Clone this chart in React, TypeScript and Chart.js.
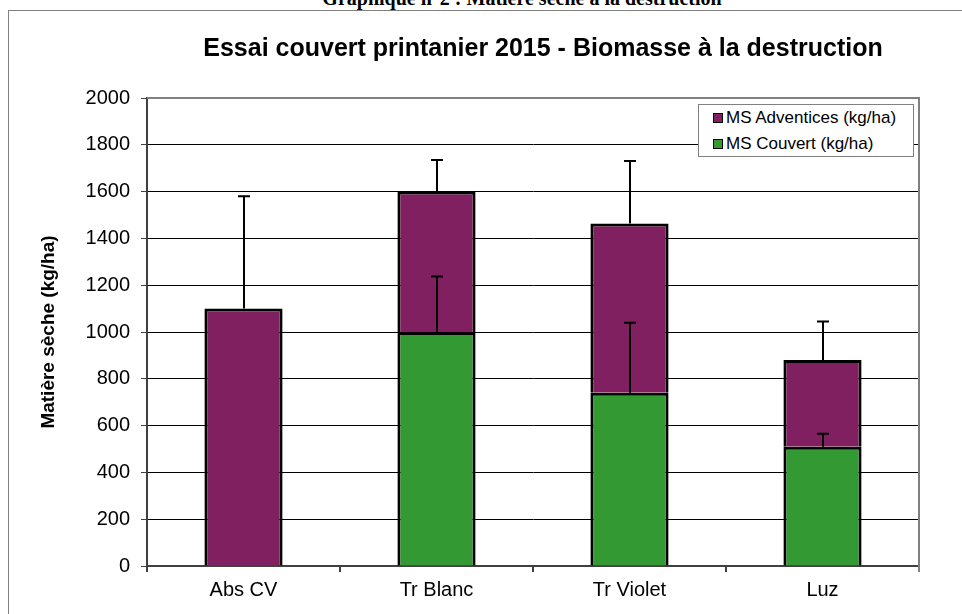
import React, { useEffect, useRef } from "react";
import { Chart, registerables } from "chart.js";

Chart.register(...registerables);

const categories = ["Abs CV", "Tr Blanc", "Tr Violet", "Luz"];
const couvert = [0, 1000, 740, 510];
const adventices = [1100, 600, 724, 370];
const couvertErr = [0, 237, 300, 55];
const totalErr = [480, 135, 267, 165];
const yMin = 0;
const yMax = 2000;
const yStep = 200;

const PURPLE = "#802060";
const GREEN = "#339933";
const FONT = '"Liberation Sans", Arial, sans-serif';

const errorBarsPlugin = {
  id: "errorBars",
  afterDatasetsDraw(chart: any) {
    const ctx = chart.ctx;
    const y = chart.scales.y;
    const meta = chart.getDatasetMeta(1);
    ctx.save();
    ctx.strokeStyle = "#000";
    ctx.lineWidth = 2;
    const draw = (x: number, base: number, top: number) => {
      const yb = y.getPixelForValue(base);
      const yt = y.getPixelForValue(top);
      ctx.beginPath();
      ctx.moveTo(x, yb);
      ctx.lineTo(x, yt);
      ctx.moveTo(x - 6, yt);
      ctx.lineTo(x + 6, yt);
      ctx.stroke();
    };
    categories.forEach((_, i) => {
      const x = Math.round(meta.data[i].x);
      if (couvert[i] > 0 && couvertErr[i] > 0) draw(x, couvert[i], couvert[i] + couvertErr[i]);
      const tot = couvert[i] + adventices[i];
      if (totalErr[i] > 0) draw(x, tot, tot + totalErr[i]);
    });
    ctx.restore();
  },
};

const plotBorderPlugin = {
  id: "plotBorder",
  afterDatasetsDraw(chart: any) {
    const { ctx, chartArea } = chart;
    ctx.save();
    ctx.strokeStyle = "#808080";
    ctx.lineWidth = 2;
    ctx.beginPath();
    ctx.moveTo(chartArea.left, chartArea.top);
    ctx.lineTo(chartArea.right, chartArea.top);
    ctx.lineTo(chartArea.right, chartArea.bottom + 6);
    ctx.stroke();
    ctx.restore();
  },
};

function ChartCanvas() {
  const ref = useRef<HTMLCanvasElement | null>(null);
  useEffect(() => {
    if (!ref.current) return;
    const chart = new Chart(ref.current, {
      type: "bar",
      data: {
        labels: categories,
        datasets: [
          {
            label: "MS Couvert (kg/ha)",
            data: couvert.map((v) => (v > 0 ? v : null)),
            backgroundColor: GREEN,
            borderColor: "#000",
            borderWidth: 3,
            borderSkipped: "bottom",
            stack: "s",
          },
          {
            label: "MS Adventices (kg/ha)",
            data: adventices,
            backgroundColor: PURPLE,
            borderColor: "#000",
            borderWidth: 3,
            borderSkipped: "bottom",
            stack: "s",
          },
        ],
      },
      options: {
        responsive: false,
        animation: false,
        events: [],
        datasets: { bar: { categoryPercentage: 1, barPercentage: 0.405 } },
        layout: { padding: { top: 87, right: 43, bottom: 0, left: 0 } },
        plugins: {
          legend: { display: false },
          title: { display: false },
          tooltip: { enabled: false },
        },
        scales: {
          x: {
            stacked: true,
            afterFit(scale: any) {
              scale.height = 48;
            },
            grid: {
              offset: true,
              drawOnChartArea: false,
              drawTicks: true,
              tickLength: 6,
              color: "#404040",
              lineWidth: 2,
            },
            border: { color: "#404040", width: 2 },
            ticks: {
              color: "#000",
              padding: 6,
              font: { family: FONT, size: 20 },
            },
          },
          y: {
            stacked: true,
            min: yMin,
            max: yMax,
            afterFit(scale: any) {
              scale.width = 138;
            },
            ticks: {
              stepSize: yStep,
              color: "#000",
              padding: 11,
              font: { family: FONT, size: 20 },
              callback: (v: any) => String(v),
            },
            grid: {
              color: "#000",
              lineWidth: 1,
              tickLength: 6,
              tickColor: "#404040",
            },
            border: { color: "#404040", width: 2 },
            title: {
              display: true,
              text: "Matière sèche (kg/ha)",
              color: "#000",
              font: { family: FONT, size: 19, weight: "bold" },
              padding: { top: 28, bottom: 0 },
            },
          },
        },
      },
      plugins: [errorBarsPlugin, plotBorderPlugin],
    } as any);
    return () => chart.destroy();
  }, []);
  return <canvas ref={ref} width={953} height={603} style={{ display: "block" }} />;
}

export default function App() {
  return (
    <div
      style={{
        position: "fixed",
        left: 0,
        top: 0,
        width: 962,
        height: 614,
        overflow: "hidden",
        background: "#fff",
      }}
    >
      <div
        style={{
          position: "absolute",
          left: 0,
          top: -12,
          width: 1044,
          textAlign: "center",
          whiteSpace: "nowrap",
          font: 'bold 20px/20px "Liberation Serif", "Times New Roman", serif',
          color: "#000",
        }}
      >
        Graphique n°2 : Matière sèche à la destruction
      </div>
      <div
        style={{
          position: "absolute",
          left: 8,
          top: 10,
          width: 1200,
          height: 800,
          borderLeft: "1px solid #808080",
          borderTop: "1px solid #808080",
        }}
      />
      <div style={{ position: "absolute", left: 9, top: 11 }}>
        <ChartCanvas />
      </div>
      <div
        style={{
          position: "absolute",
          left: 0,
          top: 35,
          width: 1086,
          textAlign: "center",
          whiteSpace: "nowrap",
          font: `bold 25px/25px ${FONT}`,
          color: "#000",
        }}
      >
        Essai couvert printanier 2015 - Biomasse à la destruction
      </div>
      <div
        style={{
          position: "absolute",
          left: 698,
          top: 104,
          width: 216,
          height: 53,
          boxSizing: "border-box",
          border: "1px solid #808080",
          background: "#fff",
          font: `17px ${FONT}`,
          color: "#000",
        }}
      >
        {[
          { label: "MS Adventices (kg/ha)", color: PURPLE, top: 3 },
          { label: "MS Couvert (kg/ha)", color: GREEN, top: 29 },
        ].map((it) => (
          <div
            key={it.label}
            style={{
              position: "absolute",
              left: 14,
              top: it.top,
              height: 20,
              display: "flex",
              alignItems: "center",
              whiteSpace: "nowrap",
            }}
          >
            <span
              style={{
                display: "inline-block",
                width: 10,
                height: 10,
                boxSizing: "border-box",
                border: "1.5px solid #000",
                background: it.color,
                marginRight: 3,
              }}
            />
            <span>{it.label}</span>
          </div>
        ))}
      </div>
    </div>
  );
}
